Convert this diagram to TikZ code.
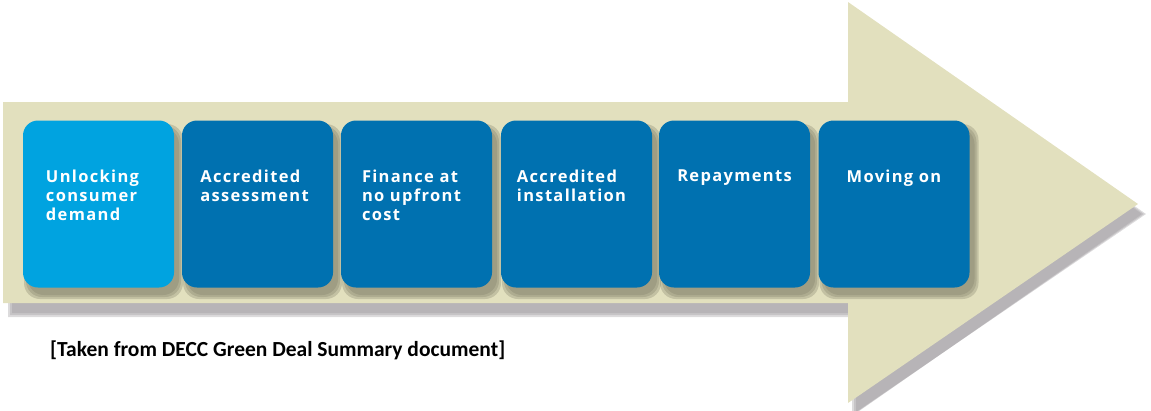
\documentclass[tikz,border=0pt]{standalone}
\usepackage{fontspec}
\newfontfamily\boxfont[LetterSpace=8]{Open Sans}
\newfontfamily\capfont{Carlito}
\definecolor{arrowfill}{HTML}{E2E0BE}
\definecolor{lightblue}{HTML}{00A3E0}
\definecolor{darkblue}{HTML}{0071B0}
\definecolor{arrowshadow}{HTML}{9C989C}
\definecolor{boxshadow}{HTML}{7E7C66}
\begin{document}
\begin{tikzpicture}[x=1pt,y=-1pt,
  stepbox/.style={minimum width=151pt,minimum height=167pt,rounded corners=15pt,inner sep=0pt,draw=none},
  shadowlayer/.style={fill=boxshadow,opacity=0.3,rounded corners=16pt},
  steptext/.style={anchor=north,align=left,inner sep=0pt,text=white,font=\boxfont\bfseries\fontsize{16.5}{19}\selectfont}]
\useasboundingbox (0,0) rectangle (1151,410);
% arrow shadow
\foreach \d in {0,2,4}{
\fill[arrowshadow,opacity=0.35] ({12-\d},{112-\d}) -- ({856-\d},{112-\d}) -- ({856-\d},{12-\d}) -- ({1146-\d},214) -- ({856-\d},{412+\d}) -- ({856-\d},{313+\d}) -- ({12-\d},{313+\d}) -- cycle;
}
\fill[arrowfill] (3,102) -- (848,102) -- (848,2) -- (1138,204) -- (848,403) -- (848,303) -- (3,303) -- cycle;
% box shadows
\foreach \cx in {98.5,257.5,416.5,576.5,734.5,894}{
  \foreach \d in {0,2,4}{
    \fill[shadowlayer] ({\cx-75.5+5-\d},{120+8-\d}) rectangle ({\cx+75.5+5+\d},{287+8+\d});
  }
}
% boxes
\node[stepbox,fill=lightblue] (b1) at (98.5,204) {};
\node[stepbox,fill=darkblue] (b2) at (257.5,204) {};
\node[stepbox,fill=darkblue] (b3) at (416.5,204) {};
\node[stepbox,fill=darkblue] (b4) at (576.5,204) {};
\node[stepbox,fill=darkblue] (b5) at (734.5,204) {};
\node[stepbox,fill=darkblue] (b6) at (894,204) {};
\node[steptext] (t1) at ([xshift=-6pt]b1.center |- 0,170) {Unlocking\\consumer\\demand};
\node[steptext] (t2) at ([xshift=-3pt]b2.center |- 0,170) {Accredited\\assessment};
\node[steptext] (t3) at ([xshift=-5pt]b3.center |- 0,170) {Finance at\\no upfront\\cost};
\node[steptext] (t4) at ([xshift=-5pt]b4.center |- 0,170) {Accredited\\installation};
\node[steptext] (t5) at (b5.center |- 0,170) {Repayments};
\node[steptext] (t6) at (b6.center |- 0,170) {Moving on};
\node[anchor=base west,inner sep=0pt,font=\capfont\bfseries\fontsize{21.5}{24}\selectfont] (cap) at (50,356) {[Taken from DECC Green Deal Summary document]};
\end{tikzpicture}
\end{document}
